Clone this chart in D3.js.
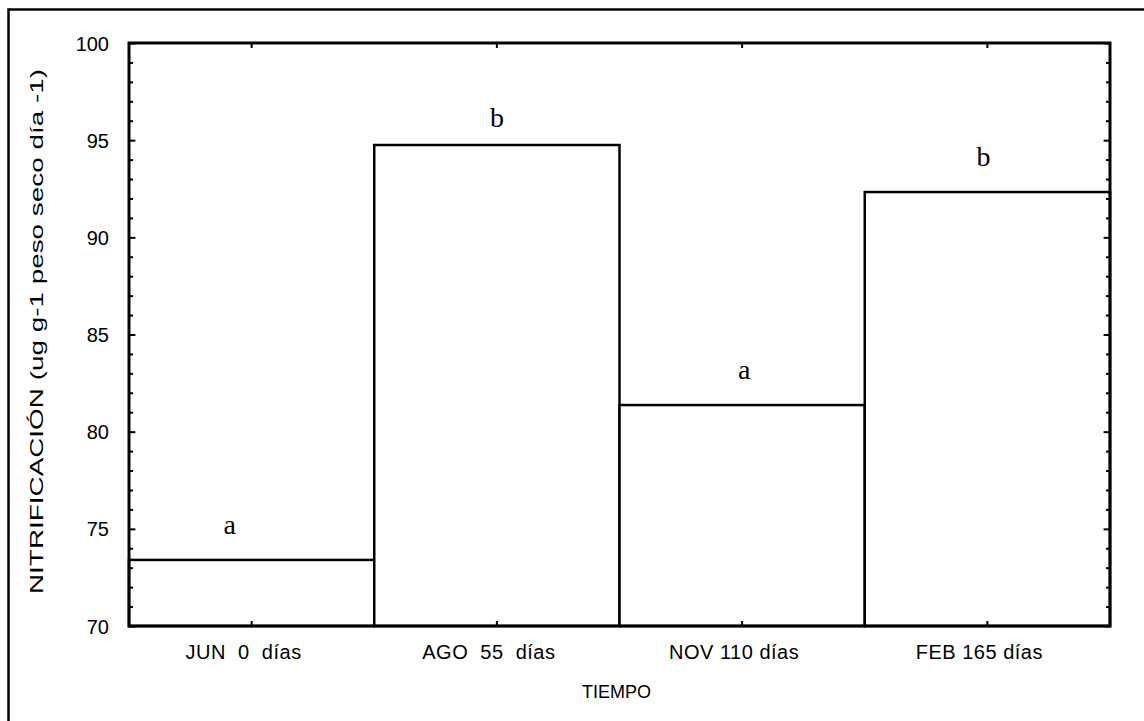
<!DOCTYPE html>
<html>
<head>
<meta charset="utf-8">
<script src="https://cdn.jsdelivr.net/npm/d3@7"></script>
<style>
  html, body { margin: 0; padding: 0; background: #fff; }
  svg { display: block; }
  text { fill: #000; }
</style>
</head>
<body>
<svg id="chart" width="1144" height="721"></svg>
<script>
// Nitrification by sampling date
const categories = ["JUN  0  días", "AGO  55  días", "NOV 110 días", "FEB 165 días"];
const values = [73.4, 94.75, 81.37, 92.33];
const groupLetters = ["a", "b", "a", "b"];
const yTicks = [70, 75, 80, 85, 90, 95, 100];
const yDomain = [70, 100];

const svg = d3.select("#chart");
const W = 1144, H = 721;
const m = { left: 129, top: 43, right: 1144 - 1110, bottom: 721 - 626 };
const iw = W - m.left - m.right, ih = H - m.top - m.bottom;

// page frame (only top and left edges are visible)
svg.append("path")
  .attr("d", `M8.5,${H} L8.5,9.5 L${W},9.5`)
  .attr("fill", "none").attr("stroke", "#000").attr("stroke-width", 2.5);

const g = svg.append("g").attr("transform", `translate(${m.left},${m.top})`);

const x = d3.scaleBand().domain(categories).range([0, iw]).padding(0);
const y = d3.scaleLinear().domain(yDomain).range([ih, 0]);

// bars fill their whole category band
g.selectAll("rect.bar").data(values).join("rect")
  .attr("class", "bar")
  .attr("x", (d, i) => x(categories[i]))
  .attr("y", d => y(d))
  .attr("width", x.bandwidth())
  .attr("height", d => ih - y(d))
  .attr("fill", "#fff").attr("stroke", "#000").attr("stroke-width", 2.5);

// significance letters, hand-nudged as typeset
const letterDx = [-22, 0, 2, -4];
const letterDy = [0, 8, 0, 0];
g.selectAll("text.letter").data(groupLetters).join("text")
  .attr("class", "letter")
  .attr("x", (d, i) => x(categories[i]) + x.bandwidth() / 2 + letterDx[i])
  .attr("y", (d, i) => y(values[i]) - 26 + letterDy[i])
  .attr("text-anchor", "middle")
  .style("font-family", "'Liberation Serif', 'Times New Roman', serif")
  .style("font-size", "28px")
  .text(d => d);

// minor ticks every unit, major every five
const minor = d3.range(yDomain[0], yDomain[1] + 1, 1);
const yLeft = d3.axisLeft(y).tickValues(minor).tickSize(-4).tickFormat("");
const yRight = d3.axisRight(y).tickValues(minor).tickSize(-4).tickFormat("");
const axL = g.append("g").call(yLeft);
const axR = g.append("g").attr("transform", `translate(${iw},0)`).call(yRight);
[axL, axR].forEach(a => {
  a.select(".domain").remove();
  a.selectAll(".tick line").attr("stroke", "#000").attr("stroke-width", 2)
    .attr("x2", function(d) {
      const s = d3.select(this).attr("x2");
      return d % 5 === 0 ? s * 1.6 : s;
    });
});

// y tick labels
const yLab = d3.axisLeft(y).tickValues(yTicks).tickSize(0).tickPadding(20).tickFormat(d3.format("d"));
const axLab = g.append("g").call(yLab);
axLab.select(".domain").remove();
axLab.selectAll("text")
  .style("font-family", "Arial, 'Liberation Sans', sans-serif")
  .style("font-size", "20px").attr("dy", "0.35em");

// top and bottom ticks at category centres
const xBottom = d3.axisBottom(x).tickSize(-5).tickFormat("");
const xTop = d3.axisTop(x).tickSize(-5).tickFormat("");
const axB = g.append("g").attr("transform", `translate(0,${ih})`).call(xBottom);
const axT = g.append("g").call(xTop);
[axB, axT].forEach(a => {
  a.select(".domain").remove();
  a.selectAll(".tick line").attr("stroke", "#000").attr("stroke-width", 2);
});

// category labels
const xLab = d3.axisBottom(x).tickSize(0).tickPadding(19);
const axXL = g.append("g").attr("transform", `translate(0,${ih})`).call(xLab);
axXL.select(".domain").remove();
axXL.selectAll("text")
  .attr("dx", "-8")
  .style("font-family", "Arial, 'Liberation Sans', sans-serif")
  .style("font-size", "20px")
  .style("letter-spacing", "0.5px")
  .style("white-space", "pre");

// plot frame
g.append("rect").attr("x", 0).attr("y", 0).attr("width", iw).attr("height", ih)
  .attr("fill", "none").attr("stroke", "#000").attr("stroke-width", 3);

// axis titles
svg.append("text")
  .attr("x", m.left + iw / 2 - 3).attr("y", 698)
  .attr("text-anchor", "middle")
  .style("font-family", "Arial, 'Liberation Sans', sans-serif")
  .style("font-size", "18px")
  .text("TIEMPO");

svg.append("text")
  .attr("transform", `translate(43,${m.top + ih / 2 - 3}) rotate(-90)`)
  .attr("text-anchor", "middle")
  .style("font-family", "Arial, 'Liberation Sans', sans-serif")
  .style("font-size", "18px")
  .attr("textLength", 525).attr("lengthAdjust", "spacingAndGlyphs")
  .text("NITRIFICACIÓN (ug g-1 peso seco día -1)");
</script>
</body>
</html>
